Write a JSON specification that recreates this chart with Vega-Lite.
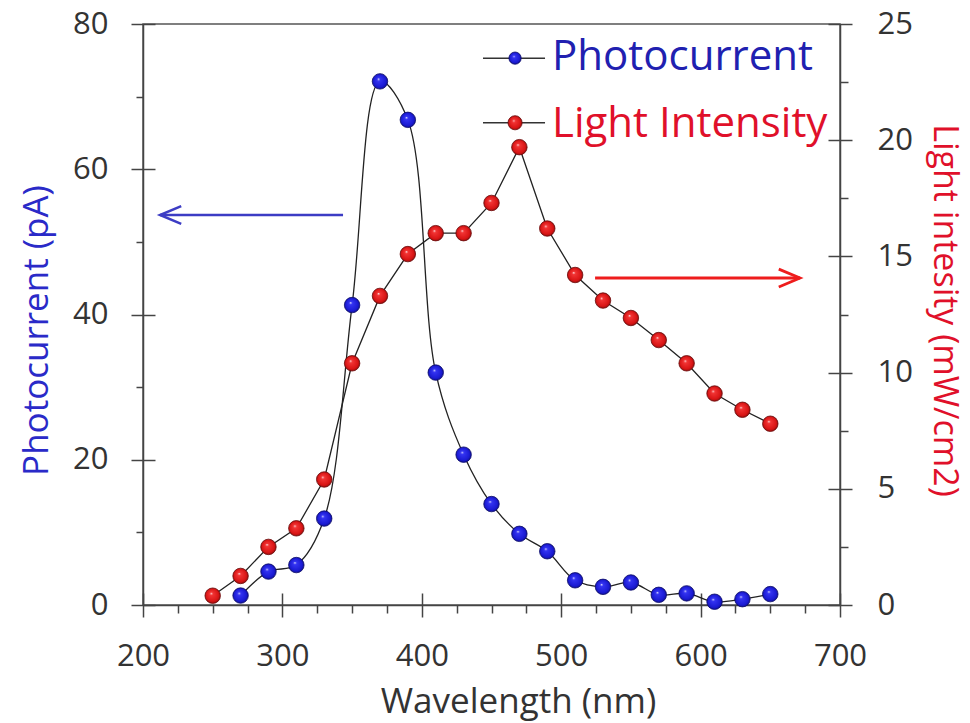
{
  "$schema": "https://vega.github.io/schema/vega-lite/v6.json",
  "width": 697,
  "height": 581,
  "autosize": {"type": "none"},
  "padding": {"left": 143, "top": 24, "right": 130, "bottom": 118},
  "background": "white",
  "config": {
    "font": "Open Sans",
    "view": {"stroke": "#555", "strokeWidth": 1.5},
    "axis": {
      "grid": false,
      "labelFont": "Open Sans",
      "labelFontSize": 31,
      "labelColor": "#333",
      "tickColor": "#444",
      "domainColor": "#444",
      "tickWidth": 1.5,
      "domainWidth": 1.5,
      "titleFont": "Open Sans",
      "titleFontSize": 35,
      "titleFontWeight": "normal"
    }
  },
  "datasets": {
    "photo": [
      {"wavelength": 270, "photocurrent": 1.3},
      {"wavelength": 290, "photocurrent": 4.6},
      {"wavelength": 310, "photocurrent": 5.5},
      {"wavelength": 330, "photocurrent": 11.9},
      {"wavelength": 350, "photocurrent": 41.3},
      {"wavelength": 370, "photocurrent": 72.1},
      {"wavelength": 390, "photocurrent": 66.8},
      {"wavelength": 410, "photocurrent": 32.0},
      {"wavelength": 430, "photocurrent": 20.7},
      {"wavelength": 450, "photocurrent": 13.9},
      {"wavelength": 470, "photocurrent": 9.8},
      {"wavelength": 490, "photocurrent": 7.4},
      {"wavelength": 510, "photocurrent": 3.4},
      {"wavelength": 530, "photocurrent": 2.5},
      {"wavelength": 550, "photocurrent": 3.1},
      {"wavelength": 570, "photocurrent": 1.4},
      {"wavelength": 590, "photocurrent": 1.6},
      {"wavelength": 610, "photocurrent": 0.45},
      {"wavelength": 630, "photocurrent": 0.8},
      {"wavelength": 650, "photocurrent": 1.5}
    ],
    "light": [
      {"wavelength": 250, "intensity": 0.4},
      {"wavelength": 270, "intensity": 1.25},
      {"wavelength": 290, "intensity": 2.5},
      {"wavelength": 310, "intensity": 3.3},
      {"wavelength": 330, "intensity": 5.4},
      {"wavelength": 350, "intensity": 10.4},
      {"wavelength": 370, "intensity": 13.3},
      {"wavelength": 390, "intensity": 15.1},
      {"wavelength": 410, "intensity": 16.0},
      {"wavelength": 430, "intensity": 16.0},
      {"wavelength": 450, "intensity": 17.3},
      {"wavelength": 470, "intensity": 19.7},
      {"wavelength": 490, "intensity": 16.2},
      {"wavelength": 510, "intensity": 14.2},
      {"wavelength": 530, "intensity": 13.1},
      {"wavelength": 550, "intensity": 12.35},
      {"wavelength": 570, "intensity": 11.4},
      {"wavelength": 590, "intensity": 10.4},
      {"wavelength": 610, "intensity": 9.1},
      {"wavelength": 630, "intensity": 8.4},
      {"wavelength": 650, "intensity": 7.8}
    ],
    "blueArrow": [{"x1": 212.2, "x2": 343.5, "y": 53.7}],
    "redArrow": [{"x1": 524.3, "x2": 671.3, "y": 14.07}],
    "legendPhoto": [{"x1": 443.9, "x2": 488.4, "xm": 466.9, "ym": 75.3, "xt": 493.4, "yt": 73.7, "label": "Photocurrent"}],
    "legendLight": [{"x1": 443.9, "x2": 488.4, "xm": 466.9, "ym": 66.4, "xt": 493.4, "yt": 64.4, "label": "Light Intensity"}]
  },
  "layer": [
    {
      "layer": [
        {
          "data": {"name": "photo"},
          "mark": {"type": "line", "interpolate": "catmull-rom", "color": "#222", "strokeWidth": 1.3},
          "encoding": {
            "x": {"field": "wavelength", "type": "quantitative", "scale": {"domain": [200, 700], "nice": false, "zero": false},
              "axis": {"orient": "bottom", "values": [200, 300, 400, 500, 600, 700], "tickSize": 24, "offset": -12, "domain": false, "labelPadding": 48, "labelBaseline": "alphabetic", "title": null, "labelFlush": false}},
            "y": {"field": "photocurrent", "type": "quantitative", "scale": {"domain": [0, 80], "nice": false},
              "axis": {"orient": "left", "values": [0, 20, 40, 60, 80], "tickSize": 24, "offset": -12, "domain": false, "labelPadding": 23, "title": null, "labelFlush": false}}
          }
        },
        {
          "data": {"name": "photo"},
          "mark": {"type": "point", "filled": true, "size": 240, "opacity": 1, "stroke": "#0c0c6a", "strokeWidth": 0.8,
            "fill": {"gradient": "radial", "x1": 0.4, "y1": 0.35, "r1": 0, "x2": 0.5, "y2": 0.5, "r2": 0.55,
              "stops": [{"offset": 0, "color": "#e6e6ff"}, {"offset": 0.18, "color": "#3434f2"}, {"offset": 0.75, "color": "#1a1ad2"}, {"offset": 1, "color": "#0c0c78"}]}},
          "encoding": {
            "x": {"field": "wavelength", "type": "quantitative", "scale": {"domain": [200, 700], "nice": false, "zero": false},
              "axis": {"orient": "bottom", "values": [225, 250, 275, 325, 350, 375, 425, 450, 475, 525, 550, 575, 625, 650, 675], "tickSize": 8, "labels": false, "domain": true,
                "title": "Wavelength (nm)", "titleColor": "#333", "titleX": 375, "titleY": 107, "titleBaseline": "alphabetic"}},
            "y": {"field": "photocurrent", "type": "quantitative", "scale": {"domain": [0, 80], "nice": false},
              "axis": {"orient": "left", "values": [10, 30, 50, 70], "tickSize": 7, "labels": false, "domain": true,
                "title": "Photocurrent (pA)", "titleColor": "#2a2ac8", "titleX": -96, "titleY": 306, "titleBaseline": "alphabetic", "titleAngle": -90}}
          }
        },
        {
          "data": {"name": "blueArrow"},
          "mark": {"type": "rule", "color": "#3c3cc4", "strokeWidth": 2.5},
          "encoding": {
            "x": {"field": "x1", "type": "quantitative", "axis": null},
            "x2": {"field": "x2"},
            "y": {"field": "y", "type": "quantitative", "axis": null}
          }
        },
        {
          "data": {"name": "blueArrow"},
          "mark": {"type": "point", "filled": false, "shape": "M1,-0.42 L0,0 L1,0.42", "size": 1800, "stroke": "#3c3cc4", "strokeWidth": 2.5, "opacity": 1},
          "encoding": {
            "x": {"field": "x1", "type": "quantitative", "axis": null},
            "y": {"field": "y", "type": "quantitative", "axis": null}
          }
        },
        {
          "data": {"name": "legendPhoto"},
          "mark": {"type": "rule", "color": "#333", "strokeWidth": 1.5},
          "encoding": {
            "x": {"field": "x1", "type": "quantitative", "axis": null},
            "x2": {"field": "x2"},
            "y": {"field": "ym", "type": "quantitative", "axis": null}
          }
        },
        {
          "data": {"name": "legendLight"},
          "mark": {"type": "rule", "color": "#333", "strokeWidth": 1.5},
          "encoding": {
            "x": {"field": "x1", "type": "quantitative", "axis": null},
            "x2": {"field": "x2"},
            "y": {"field": "ym", "type": "quantitative", "axis": null}
          }
        },
        {
          "data": {"name": "legendPhoto"},
          "mark": {"type": "point", "filled": true, "size": 150, "opacity": 1, "stroke": "#0c0c6a", "strokeWidth": 0.8,
            "fill": {"gradient": "radial", "x1": 0.4, "y1": 0.35, "r1": 0, "x2": 0.5, "y2": 0.5, "r2": 0.55,
              "stops": [{"offset": 0, "color": "#e6e6ff"}, {"offset": 0.18, "color": "#3434f2"}, {"offset": 0.75, "color": "#1a1ad2"}, {"offset": 1, "color": "#0c0c78"}]}},
          "encoding": {
            "x": {"field": "xm", "type": "quantitative", "axis": null},
            "y": {"field": "ym", "type": "quantitative", "axis": null}
          }
        },
        {
          "data": {"name": "legendLight"},
          "mark": {"type": "point", "filled": true, "size": 200, "opacity": 1, "stroke": "#6a0a0a", "strokeWidth": 0.8,
            "fill": {"gradient": "radial", "x1": 0.4, "y1": 0.35, "r1": 0, "x2": 0.5, "y2": 0.5, "r2": 0.55,
              "stops": [{"offset": 0, "color": "#ffe6e6"}, {"offset": 0.18, "color": "#f23434"}, {"offset": 0.75, "color": "#d81414"}, {"offset": 1, "color": "#780c0c"}]}},
          "encoding": {
            "x": {"field": "xm", "type": "quantitative", "axis": null},
            "y": {"field": "ym", "type": "quantitative", "axis": null}
          }
        },
        {
          "data": {"name": "legendPhoto"},
          "mark": {"type": "text", "align": "left", "baseline": "alphabetic", "fontSize": 42, "font": "Open Sans", "color": "#2020b0"},
          "encoding": {
            "x": {"field": "xt", "type": "quantitative", "axis": null},
            "y": {"field": "yt", "type": "quantitative", "axis": null},
            "text": {"field": "label"}
          }
        },
        {
          "data": {"name": "legendLight"},
          "mark": {"type": "text", "align": "left", "baseline": "alphabetic", "fontSize": 42, "font": "Open Sans", "color": "#e0102a"},
          "encoding": {
            "x": {"field": "xt", "type": "quantitative", "axis": null},
            "y": {"field": "yt", "type": "quantitative", "axis": null},
            "text": {"field": "label"}
          }
        }
      ],
      "resolve": {"axis": {"x": "independent", "y": "independent"}}
    },
    {
      "layer": [
        {
          "data": {"name": "light"},
          "mark": {"type": "line", "interpolate": "linear", "color": "#222", "strokeWidth": 1.3},
          "encoding": {
            "x": {"field": "wavelength", "type": "quantitative", "scale": {"domain": [200, 700], "nice": false, "zero": false}, "axis": null},
            "y": {"field": "intensity", "type": "quantitative", "scale": {"domain": [0, 25], "nice": false},
              "axis": {"orient": "right", "values": [0, 5, 10, 15, 20, 25], "tickSize": 24, "offset": -12, "domain": false, "labelPadding": 25, "title": null, "labelFlush": false}}
          }
        },
        {
          "data": {"name": "light"},
          "mark": {"type": "point", "filled": true, "size": 240, "opacity": 1, "stroke": "#6a0a0a", "strokeWidth": 0.8,
            "fill": {"gradient": "radial", "x1": 0.4, "y1": 0.35, "r1": 0, "x2": 0.5, "y2": 0.5, "r2": 0.55,
              "stops": [{"offset": 0, "color": "#ffe6e6"}, {"offset": 0.18, "color": "#f23434"}, {"offset": 0.75, "color": "#d81414"}, {"offset": 1, "color": "#780c0c"}]}},
          "encoding": {
            "x": {"field": "wavelength", "type": "quantitative", "scale": {"domain": [200, 700], "nice": false, "zero": false}, "axis": null},
            "y": {"field": "intensity", "type": "quantitative", "scale": {"domain": [0, 25], "nice": false},
              "axis": {"orient": "right", "values": [2.5, 7.5, 12.5, 17.5, 22.5], "tickSize": 8, "labels": false, "domain": true,
                "title": "Light intesity (mW/cm2)", "titleColor": "#e0102a", "titleFontSize": 34, "titleX": 93, "titleY": 286, "titleBaseline": "alphabetic", "titleAngle": 90}}
          }
        },
        {
          "data": {"name": "redArrow"},
          "mark": {"type": "rule", "color": "#ee1c1c", "strokeWidth": 2.8},
          "encoding": {
            "x": {"field": "x1", "type": "quantitative", "axis": null},
            "x2": {"field": "x2"},
            "y": {"field": "y", "type": "quantitative", "axis": null}
          }
        },
        {
          "data": {"name": "redArrow"},
          "mark": {"type": "point", "filled": false, "shape": "M-1,-0.42 L0,0 L-1,0.42", "size": 1800, "stroke": "#ee1c1c", "strokeWidth": 2.8, "opacity": 1},
          "encoding": {
            "x": {"field": "x2", "type": "quantitative", "axis": null},
            "y": {"field": "y", "type": "quantitative", "axis": null}
          }
        }
      ],
      "resolve": {"axis": {"y": "independent"}}
    }
  ],
  "resolve": {"scale": {"y": "independent"}}
}
